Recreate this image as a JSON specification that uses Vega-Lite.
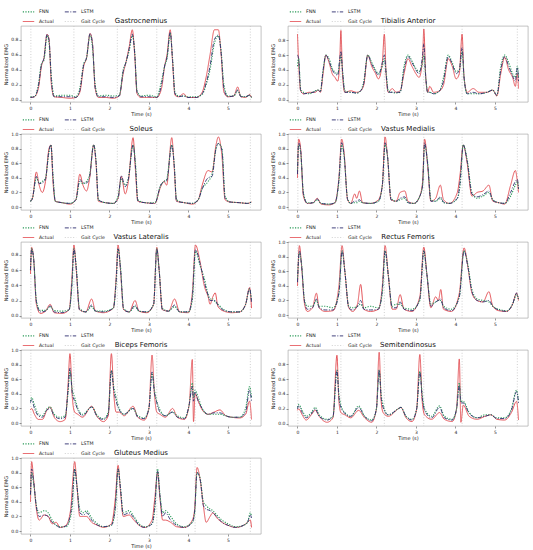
{
  "$schema": "https://vega.github.io/schema/vega-lite/v6.json",
  "padding": {"left": 3, "top": 4, "right": 4, "bottom": 2},
  "config": {
    "font": "DejaVu Sans",
    "view": {"stroke": "#9a9a9a", "strokeWidth": 0.6},
    "title": {"fontSize": 7, "fontWeight": "normal", "offset": 1, "dy": 20, "color": "#111"},
    "axis": {"labelFontSize": 4.5, "titleFontSize": 5, "titleFontWeight": "normal", "tickSize": 2, "tickWidth": 0.5, "tickColor": "#333", "domain": false, "grid": false, "labelPadding": 1, "titlePadding": 2, "labelColor": "#222", "titleColor": "#222"},
    "legend": {"orient": "none", "legendX": 1, "legendY": -21, "columns": 2, "symbolType": "stroke", "symbolSize": 130, "labelFontSize": 4.7, "rowPadding": 1, "columnPadding": 10, "labelOffset": 4, "padding": 0, "labelColor": "#222"},
    "line": {"interpolate": "monotone", "strokeJoin": "round"}
  },
  "datasets": {
    "gait": [
      {"t": 0.01, "s": "Gait Cycle"}, {"t": 1.1, "s": "Gait Cycle"}, {"t": 2.2, "s": "Gait Cycle"},
      {"t": 3.2, "s": "Gait Cycle"}, {"t": 4.17, "s": "Gait Cycle"}, {"t": 5.57, "s": "Gait Cycle"}
    ],
    "emg": [
      {"m":"GA","t":0.0,"Actual":0.03,"FNN":0.04,"LSTM":0.03},
      {"m":"GA","t":0.1,"Actual":0.04,"FNN":0.04,"LSTM":0.04},
      {"m":"GA","t":0.2,"Actual":0.15,"FNN":0.2,"LSTM":0.18},
      {"m":"GA","t":0.28,"Actual":0.45,"FNN":0.48,"LSTM":0.47},
      {"m":"GA","t":0.34,"Actual":0.55,"FNN":0.52,"LSTM":0.55},
      {"m":"GA","t":0.42,"Actual":0.87,"FNN":0.85,"LSTM":0.87},
      {"m":"GA","t":0.47,"Actual":0.8,"FNN":0.75,"LSTM":0.8},
      {"m":"GA","t":0.53,"Actual":0.2,"FNN":0.3,"LSTM":0.25},
      {"m":"GA","t":0.6,"Actual":0.04,"FNN":0.05,"LSTM":0.04},
      {"m":"GA","t":0.8,"Actual":0.03,"FNN":0.06,"LSTM":0.04},
      {"m":"GA","t":1.0,"Actual":0.02,"FNN":0.06,"LSTM":0.04},
      {"m":"GA","t":1.15,"Actual":0.03,"FNN":0.04,"LSTM":0.03},
      {"m":"GA","t":1.25,"Actual":0.1,"FNN":0.15,"LSTM":0.12},
      {"m":"GA","t":1.35,"Actual":0.45,"FNN":0.48,"LSTM":0.47},
      {"m":"GA","t":1.42,"Actual":0.55,"FNN":0.55,"LSTM":0.56},
      {"m":"GA","t":1.51,"Actual":0.88,"FNN":0.86,"LSTM":0.88},
      {"m":"GA","t":1.57,"Actual":0.75,"FNN":0.7,"LSTM":0.75},
      {"m":"GA","t":1.64,"Actual":0.15,"FNN":0.2,"LSTM":0.15},
      {"m":"GA","t":1.72,"Actual":0.03,"FNN":0.05,"LSTM":0.04},
      {"m":"GA","t":1.9,"Actual":0.03,"FNN":0.06,"LSTM":0.04},
      {"m":"GA","t":2.1,"Actual":0.02,"FNN":0.05,"LSTM":0.03},
      {"m":"GA","t":2.25,"Actual":0.05,"FNN":0.06,"LSTM":0.05},
      {"m":"GA","t":2.35,"Actual":0.35,"FNN":0.4,"LSTM":0.38},
      {"m":"GA","t":2.42,"Actual":0.5,"FNN":0.5,"LSTM":0.5},
      {"m":"GA","t":2.5,"Actual":0.7,"FNN":0.65,"LSTM":0.68},
      {"m":"GA","t":2.58,"Actual":0.93,"FNN":0.85,"LSTM":0.87},
      {"m":"GA","t":2.64,"Actual":0.6,"FNN":0.65,"LSTM":0.62},
      {"m":"GA","t":2.7,"Actual":0.08,"FNN":0.12,"LSTM":0.1},
      {"m":"GA","t":2.8,"Actual":0.03,"FNN":0.05,"LSTM":0.04},
      {"m":"GA","t":3.0,"Actual":0.03,"FNN":0.06,"LSTM":0.04},
      {"m":"GA","t":3.2,"Actual":0.03,"FNN":0.04,"LSTM":0.03},
      {"m":"GA","t":3.32,"Actual":0.15,"FNN":0.25,"LSTM":0.2},
      {"m":"GA","t":3.4,"Actual":0.45,"FNN":0.45,"LSTM":0.45},
      {"m":"GA","t":3.46,"Actual":0.6,"FNN":0.55,"LSTM":0.57},
      {"m":"GA","t":3.54,"Actual":0.93,"FNN":0.88,"LSTM":0.9},
      {"m":"GA","t":3.6,"Actual":0.5,"FNN":0.55,"LSTM":0.52},
      {"m":"GA","t":3.66,"Actual":0.06,"FNN":0.1,"LSTM":0.08},
      {"m":"GA","t":3.75,"Actual":0.04,"FNN":0.05,"LSTM":0.04},
      {"m":"GA","t":3.88,"Actual":0.08,"FNN":0.05,"LSTM":0.05},
      {"m":"GA","t":3.98,"Actual":0.03,"FNN":0.04,"LSTM":0.03},
      {"m":"GA","t":4.2,"Actual":0.03,"FNN":0.04,"LSTM":0.03},
      {"m":"GA","t":4.35,"Actual":0.1,"FNN":0.07,"LSTM":0.08},
      {"m":"GA","t":4.45,"Actual":0.3,"FNN":0.2,"LSTM":0.22},
      {"m":"GA","t":4.55,"Actual":0.6,"FNN":0.4,"LSTM":0.45},
      {"m":"GA","t":4.66,"Actual":0.93,"FNN":0.75,"LSTM":0.8},
      {"m":"GA","t":4.76,"Actual":0.93,"FNN":0.85,"LSTM":0.86},
      {"m":"GA","t":4.83,"Actual":0.6,"FNN":0.65,"LSTM":0.62},
      {"m":"GA","t":4.9,"Actual":0.1,"FNN":0.2,"LSTM":0.15},
      {"m":"GA","t":5.0,"Actual":0.04,"FNN":0.05,"LSTM":0.04},
      {"m":"GA","t":5.15,"Actual":0.05,"FNN":0.05,"LSTM":0.05},
      {"m":"GA","t":5.25,"Actual":0.17,"FNN":0.12,"LSTM":0.13},
      {"m":"GA","t":5.33,"Actual":0.04,"FNN":0.05,"LSTM":0.04},
      {"m":"GA","t":5.45,"Actual":0.03,"FNN":0.04,"LSTM":0.04},
      {"m":"GA","t":5.55,"Actual":0.07,"FNN":0.06,"LSTM":0.06},
      {"m":"GA","t":5.6,"Actual":0.03,"FNN":0.03,"LSTM":0.03},

      {"m":"TA","t":0.0,"Actual":0.88,"FNN":0.45,"LSTM":0.6},
      {"m":"TA","t":0.03,"Actual":0.5,"FNN":0.55,"LSTM":0.55},
      {"m":"TA","t":0.08,"Actual":0.12,"FNN":0.15,"LSTM":0.12},
      {"m":"TA","t":0.15,"Actual":0.08,"FNN":0.1,"LSTM":0.08},
      {"m":"TA","t":0.3,"Actual":0.1,"FNN":0.08,"LSTM":0.09},
      {"m":"TA","t":0.45,"Actual":0.1,"FNN":0.12,"LSTM":0.11},
      {"m":"TA","t":0.52,"Actual":0.13,"FNN":0.13,"LSTM":0.13},
      {"m":"TA","t":0.58,"Actual":0.1,"FNN":0.12,"LSTM":0.11},
      {"m":"TA","t":0.65,"Actual":0.35,"FNN":0.4,"LSTM":0.4},
      {"m":"TA","t":0.72,"Actual":0.6,"FNN":0.6,"LSTM":0.6},
      {"m":"TA","t":0.8,"Actual":0.5,"FNN":0.55,"LSTM":0.52},
      {"m":"TA","t":0.88,"Actual":0.35,"FNN":0.42,"LSTM":0.4},
      {"m":"TA","t":0.95,"Actual":0.3,"FNN":0.37,"LSTM":0.35},
      {"m":"TA","t":1.02,"Actual":0.25,"FNN":0.35,"LSTM":0.33},
      {"m":"TA","t":1.07,"Actual":0.5,"FNN":0.5,"LSTM":0.55},
      {"m":"TA","t":1.1,"Actual":0.93,"FNN":0.6,"LSTM":0.65},
      {"m":"TA","t":1.14,"Actual":0.35,"FNN":0.4,"LSTM":0.4},
      {"m":"TA","t":1.2,"Actual":0.1,"FNN":0.12,"LSTM":0.1},
      {"m":"TA","t":1.35,"Actual":0.12,"FNN":0.1,"LSTM":0.1},
      {"m":"TA","t":1.5,"Actual":0.1,"FNN":0.09,"LSTM":0.09},
      {"m":"TA","t":1.6,"Actual":0.12,"FNN":0.12,"LSTM":0.12},
      {"m":"TA","t":1.68,"Actual":0.2,"FNN":0.25,"LSTM":0.22},
      {"m":"TA","t":1.78,"Actual":0.6,"FNN":0.6,"LSTM":0.6},
      {"m":"TA","t":1.88,"Actual":0.45,"FNN":0.5,"LSTM":0.48},
      {"m":"TA","t":1.98,"Actual":0.35,"FNN":0.4,"LSTM":0.38},
      {"m":"TA","t":2.05,"Actual":0.28,"FNN":0.35,"LSTM":0.33},
      {"m":"TA","t":2.15,"Actual":0.5,"FNN":0.45,"LSTM":0.5},
      {"m":"TA","t":2.2,"Actual":0.88,"FNN":0.55,"LSTM":0.6},
      {"m":"TA","t":2.25,"Actual":0.3,"FNN":0.35,"LSTM":0.32},
      {"m":"TA","t":2.3,"Actual":0.1,"FNN":0.12,"LSTM":0.1},
      {"m":"TA","t":2.4,"Actual":0.15,"FNN":0.1,"LSTM":0.1},
      {"m":"TA","t":2.5,"Actual":0.1,"FNN":0.09,"LSTM":0.1},
      {"m":"TA","t":2.6,"Actual":0.12,"FNN":0.1,"LSTM":0.1},
      {"m":"TA","t":2.7,"Actual":0.35,"FNN":0.45,"LSTM":0.4},
      {"m":"TA","t":2.8,"Actual":0.55,"FNN":0.6,"LSTM":0.58},
      {"m":"TA","t":2.9,"Actual":0.45,"FNN":0.52,"LSTM":0.5},
      {"m":"TA","t":3.0,"Actual":0.35,"FNN":0.42,"LSTM":0.4},
      {"m":"TA","t":3.08,"Actual":0.3,"FNN":0.38,"LSTM":0.35},
      {"m":"TA","t":3.17,"Actual":0.55,"FNN":0.5,"LSTM":0.6},
      {"m":"TA","t":3.2,"Actual":0.95,"FNN":0.6,"LSTM":0.75},
      {"m":"TA","t":3.25,"Actual":0.3,"FNN":0.3,"LSTM":0.3},
      {"m":"TA","t":3.3,"Actual":0.1,"FNN":0.1,"LSTM":0.1},
      {"m":"TA","t":3.35,"Actual":0.18,"FNN":0.1,"LSTM":0.1},
      {"m":"TA","t":3.45,"Actual":0.1,"FNN":0.08,"LSTM":0.08},
      {"m":"TA","t":3.6,"Actual":0.12,"FNN":0.12,"LSTM":0.12},
      {"m":"TA","t":3.7,"Actual":0.2,"FNN":0.3,"LSTM":0.25},
      {"m":"TA","t":3.82,"Actual":0.55,"FNN":0.6,"LSTM":0.58},
      {"m":"TA","t":3.92,"Actual":0.45,"FNN":0.5,"LSTM":0.48},
      {"m":"TA","t":4.02,"Actual":0.28,"FNN":0.38,"LSTM":0.35},
      {"m":"TA","t":4.1,"Actual":0.35,"FNN":0.4,"LSTM":0.4},
      {"m":"TA","t":4.17,"Actual":0.88,"FNN":0.65,"LSTM":0.7},
      {"m":"TA","t":4.22,"Actual":0.3,"FNN":0.3,"LSTM":0.3},
      {"m":"TA","t":4.3,"Actual":0.1,"FNN":0.08,"LSTM":0.08},
      {"m":"TA","t":4.45,"Actual":0.15,"FNN":0.08,"LSTM":0.1},
      {"m":"TA","t":4.6,"Actual":0.1,"FNN":0.08,"LSTM":0.08},
      {"m":"TA","t":4.8,"Actual":0.1,"FNN":0.1,"LSTM":0.1},
      {"m":"TA","t":4.95,"Actual":0.13,"FNN":0.13,"LSTM":0.13},
      {"m":"TA","t":5.05,"Actual":0.05,"FNN":0.06,"LSTM":0.06},
      {"m":"TA","t":5.15,"Actual":0.35,"FNN":0.45,"LSTM":0.4},
      {"m":"TA","t":5.25,"Actual":0.57,"FNN":0.6,"LSTM":0.58},
      {"m":"TA","t":5.35,"Actual":0.4,"FNN":0.5,"LSTM":0.45},
      {"m":"TA","t":5.45,"Actual":0.3,"FNN":0.35,"LSTM":0.32},
      {"m":"TA","t":5.52,"Actual":0.18,"FNN":0.3,"LSTM":0.25},
      {"m":"TA","t":5.57,"Actual":0.35,"FNN":0.45,"LSTM":0.43},
      {"m":"TA","t":5.6,"Actual":0.15,"FNN":0.3,"LSTM":0.25},

      {"m":"SO","t":0.0,"Actual":0.08,"FNN":0.08,"LSTM":0.08},
      {"m":"SO","t":0.05,"Actual":0.12,"FNN":0.12,"LSTM":0.12},
      {"m":"SO","t":0.15,"Actual":0.48,"FNN":0.4,"LSTM":0.42},
      {"m":"SO","t":0.22,"Actual":0.3,"FNN":0.33,"LSTM":0.32},
      {"m":"SO","t":0.3,"Actual":0.2,"FNN":0.35,"LSTM":0.33},
      {"m":"SO","t":0.38,"Actual":0.35,"FNN":0.4,"LSTM":0.38},
      {"m":"SO","t":0.47,"Actual":0.8,"FNN":0.75,"LSTM":0.78},
      {"m":"SO","t":0.52,"Actual":0.85,"FNN":0.85,"LSTM":0.85},
      {"m":"SO","t":0.57,"Actual":0.35,"FNN":0.45,"LSTM":0.4},
      {"m":"SO","t":0.63,"Actual":0.08,"FNN":0.08,"LSTM":0.08},
      {"m":"SO","t":0.8,"Actual":0.06,"FNN":0.06,"LSTM":0.06},
      {"m":"SO","t":1.0,"Actual":0.04,"FNN":0.05,"LSTM":0.05},
      {"m":"SO","t":1.15,"Actual":0.1,"FNN":0.1,"LSTM":0.1},
      {"m":"SO","t":1.25,"Actual":0.45,"FNN":0.35,"LSTM":0.38},
      {"m":"SO","t":1.33,"Actual":0.3,"FNN":0.32,"LSTM":0.33},
      {"m":"SO","t":1.42,"Actual":0.22,"FNN":0.35,"LSTM":0.33},
      {"m":"SO","t":1.5,"Actual":0.4,"FNN":0.45,"LSTM":0.42},
      {"m":"SO","t":1.6,"Actual":0.85,"FNN":0.85,"LSTM":0.85},
      {"m":"SO","t":1.66,"Actual":0.6,"FNN":0.65,"LSTM":0.62},
      {"m":"SO","t":1.72,"Actual":0.08,"FNN":0.1,"LSTM":0.1},
      {"m":"SO","t":1.9,"Actual":0.06,"FNN":0.06,"LSTM":0.06},
      {"m":"SO","t":2.1,"Actual":0.05,"FNN":0.05,"LSTM":0.05},
      {"m":"SO","t":2.22,"Actual":0.12,"FNN":0.15,"LSTM":0.12},
      {"m":"SO","t":2.3,"Actual":0.42,"FNN":0.38,"LSTM":0.43},
      {"m":"SO","t":2.4,"Actual":0.18,"FNN":0.3,"LSTM":0.28},
      {"m":"SO","t":2.48,"Actual":0.35,"FNN":0.4,"LSTM":0.38},
      {"m":"SO","t":2.6,"Actual":0.95,"FNN":0.85,"LSTM":0.85},
      {"m":"SO","t":2.66,"Actual":0.5,"FNN":0.6,"LSTM":0.55},
      {"m":"SO","t":2.72,"Actual":0.08,"FNN":0.1,"LSTM":0.08},
      {"m":"SO","t":2.9,"Actual":0.06,"FNN":0.06,"LSTM":0.06},
      {"m":"SO","t":3.15,"Actual":0.05,"FNN":0.06,"LSTM":0.05},
      {"m":"SO","t":3.3,"Actual":0.28,"FNN":0.3,"LSTM":0.3},
      {"m":"SO","t":3.38,"Actual":0.35,"FNN":0.35,"LSTM":0.35},
      {"m":"SO","t":3.45,"Actual":0.3,"FNN":0.38,"LSTM":0.36},
      {"m":"SO","t":3.58,"Actual":0.95,"FNN":0.85,"LSTM":0.85},
      {"m":"SO","t":3.64,"Actual":0.55,"FNN":0.6,"LSTM":0.58},
      {"m":"SO","t":3.7,"Actual":0.08,"FNN":0.1,"LSTM":0.08},
      {"m":"SO","t":3.9,"Actual":0.06,"FNN":0.06,"LSTM":0.06},
      {"m":"SO","t":4.1,"Actual":0.04,"FNN":0.05,"LSTM":0.05},
      {"m":"SO","t":4.25,"Actual":0.1,"FNN":0.1,"LSTM":0.1},
      {"m":"SO","t":4.35,"Actual":0.3,"FNN":0.25,"LSTM":0.25},
      {"m":"SO","t":4.5,"Actual":0.5,"FNN":0.35,"LSTM":0.4},
      {"m":"SO","t":4.6,"Actual":0.48,"FNN":0.45,"LSTM":0.42},
      {"m":"SO","t":4.7,"Actual":0.85,"FNN":0.8,"LSTM":0.8},
      {"m":"SO","t":4.76,"Actual":0.96,"FNN":0.87,"LSTM":0.87},
      {"m":"SO","t":4.85,"Actual":0.7,"FNN":0.8,"LSTM":0.78},
      {"m":"SO","t":4.93,"Actual":0.1,"FNN":0.15,"LSTM":0.12},
      {"m":"SO","t":5.05,"Actual":0.07,"FNN":0.07,"LSTM":0.07},
      {"m":"SO","t":5.3,"Actual":0.06,"FNN":0.06,"LSTM":0.06},
      {"m":"SO","t":5.5,"Actual":0.05,"FNN":0.05,"LSTM":0.05},
      {"m":"SO","t":5.6,"Actual":0.07,"FNN":0.07,"LSTM":0.07},

      {"m":"VM","t":0.0,"Actual":0.4,"FNN":0.5,"LSTM":0.45},
      {"m":"VM","t":0.03,"Actual":0.93,"FNN":0.85,"LSTM":0.88},
      {"m":"VM","t":0.08,"Actual":0.8,"FNN":0.75,"LSTM":0.78},
      {"m":"VM","t":0.15,"Actual":0.15,"FNN":0.2,"LSTM":0.18},
      {"m":"VM","t":0.25,"Actual":0.05,"FNN":0.06,"LSTM":0.05},
      {"m":"VM","t":0.4,"Actual":0.06,"FNN":0.06,"LSTM":0.06},
      {"m":"VM","t":0.5,"Actual":0.12,"FNN":0.1,"LSTM":0.11},
      {"m":"VM","t":0.6,"Actual":0.04,"FNN":0.05,"LSTM":0.05},
      {"m":"VM","t":0.8,"Actual":0.03,"FNN":0.04,"LSTM":0.04},
      {"m":"VM","t":0.95,"Actual":0.06,"FNN":0.06,"LSTM":0.06},
      {"m":"VM","t":1.05,"Actual":0.4,"FNN":0.35,"LSTM":0.38},
      {"m":"VM","t":1.12,"Actual":0.93,"FNN":0.85,"LSTM":0.88},
      {"m":"VM","t":1.18,"Actual":0.75,"FNN":0.7,"LSTM":0.72},
      {"m":"VM","t":1.27,"Actual":0.1,"FNN":0.12,"LSTM":0.1},
      {"m":"VM","t":1.35,"Actual":0.05,"FNN":0.05,"LSTM":0.05},
      {"m":"VM","t":1.45,"Actual":0.18,"FNN":0.06,"LSTM":0.08},
      {"m":"VM","t":1.5,"Actual":0.12,"FNN":0.06,"LSTM":0.08},
      {"m":"VM","t":1.57,"Actual":0.22,"FNN":0.08,"LSTM":0.1},
      {"m":"VM","t":1.65,"Actual":0.06,"FNN":0.06,"LSTM":0.06},
      {"m":"VM","t":1.85,"Actual":0.05,"FNN":0.05,"LSTM":0.05},
      {"m":"VM","t":2.05,"Actual":0.1,"FNN":0.08,"LSTM":0.08},
      {"m":"VM","t":2.15,"Actual":0.3,"FNN":0.3,"LSTM":0.3},
      {"m":"VM","t":2.22,"Actual":0.96,"FNN":0.85,"LSTM":0.88},
      {"m":"VM","t":2.28,"Actual":0.7,"FNN":0.7,"LSTM":0.7},
      {"m":"VM","t":2.37,"Actual":0.1,"FNN":0.12,"LSTM":0.1},
      {"m":"VM","t":2.5,"Actual":0.08,"FNN":0.08,"LSTM":0.08},
      {"m":"VM","t":2.6,"Actual":0.2,"FNN":0.1,"LSTM":0.12},
      {"m":"VM","t":2.72,"Actual":0.22,"FNN":0.12,"LSTM":0.14},
      {"m":"VM","t":2.8,"Actual":0.08,"FNN":0.06,"LSTM":0.06},
      {"m":"VM","t":2.95,"Actual":0.05,"FNN":0.05,"LSTM":0.05},
      {"m":"VM","t":3.1,"Actual":0.15,"FNN":0.15,"LSTM":0.15},
      {"m":"VM","t":3.17,"Actual":0.35,"FNN":0.3,"LSTM":0.3},
      {"m":"VM","t":3.22,"Actual":0.93,"FNN":0.85,"LSTM":0.88},
      {"m":"VM","t":3.3,"Actual":0.55,"FNN":0.6,"LSTM":0.58},
      {"m":"VM","t":3.38,"Actual":0.08,"FNN":0.1,"LSTM":0.08},
      {"m":"VM","t":3.5,"Actual":0.12,"FNN":0.08,"LSTM":0.08},
      {"m":"VM","t":3.62,"Actual":0.3,"FNN":0.12,"LSTM":0.14},
      {"m":"VM","t":3.7,"Actual":0.1,"FNN":0.06,"LSTM":0.07},
      {"m":"VM","t":3.85,"Actual":0.05,"FNN":0.05,"LSTM":0.05},
      {"m":"VM","t":4.05,"Actual":0.2,"FNN":0.12,"LSTM":0.12},
      {"m":"VM","t":4.12,"Actual":0.45,"FNN":0.3,"LSTM":0.35},
      {"m":"VM","t":4.2,"Actual":0.85,"FNN":0.85,"LSTM":0.85},
      {"m":"VM","t":4.3,"Actual":0.6,"FNN":0.65,"LSTM":0.62},
      {"m":"VM","t":4.42,"Actual":0.15,"FNN":0.2,"LSTM":0.18},
      {"m":"VM","t":4.55,"Actual":0.2,"FNN":0.12,"LSTM":0.14},
      {"m":"VM","t":4.7,"Actual":0.22,"FNN":0.15,"LSTM":0.17},
      {"m":"VM","t":4.85,"Actual":0.3,"FNN":0.2,"LSTM":0.22},
      {"m":"VM","t":4.95,"Actual":0.08,"FNN":0.1,"LSTM":0.09},
      {"m":"VM","t":5.1,"Actual":0.06,"FNN":0.06,"LSTM":0.06},
      {"m":"VM","t":5.25,"Actual":0.04,"FNN":0.05,"LSTM":0.05},
      {"m":"VM","t":5.4,"Actual":0.3,"FNN":0.15,"LSTM":0.2},
      {"m":"VM","t":5.52,"Actual":0.5,"FNN":0.3,"LSTM":0.35},
      {"m":"VM","t":5.57,"Actual":0.35,"FNN":0.35,"LSTM":0.38},
      {"m":"VM","t":5.6,"Actual":0.2,"FNN":0.25,"LSTM":0.25},

      {"m":"VL","t":0.0,"Actual":0.55,"FNN":0.6,"LSTM":0.6},
      {"m":"VL","t":0.03,"Actual":0.9,"FNN":0.88,"LSTM":0.88},
      {"m":"VL","t":0.08,"Actual":0.75,"FNN":0.75,"LSTM":0.75},
      {"m":"VL","t":0.15,"Actual":0.15,"FNN":0.2,"LSTM":0.18},
      {"m":"VL","t":0.25,"Actual":0.03,"FNN":0.07,"LSTM":0.05},
      {"m":"VL","t":0.38,"Actual":0.06,"FNN":0.07,"LSTM":0.06},
      {"m":"VL","t":0.5,"Actual":0.15,"FNN":0.12,"LSTM":0.13},
      {"m":"VL","t":0.6,"Actual":0.04,"FNN":0.07,"LSTM":0.05},
      {"m":"VL","t":0.8,"Actual":0.03,"FNN":0.06,"LSTM":0.04},
      {"m":"VL","t":0.98,"Actual":0.08,"FNN":0.08,"LSTM":0.08},
      {"m":"VL","t":1.05,"Actual":0.5,"FNN":0.4,"LSTM":0.42},
      {"m":"VL","t":1.1,"Actual":0.93,"FNN":0.88,"LSTM":0.88},
      {"m":"VL","t":1.16,"Actual":0.6,"FNN":0.65,"LSTM":0.62},
      {"m":"VL","t":1.24,"Actual":0.08,"FNN":0.1,"LSTM":0.08},
      {"m":"VL","t":1.4,"Actual":0.05,"FNN":0.05,"LSTM":0.05},
      {"m":"VL","t":1.55,"Actual":0.22,"FNN":0.12,"LSTM":0.14},
      {"m":"VL","t":1.65,"Actual":0.06,"FNN":0.06,"LSTM":0.06},
      {"m":"VL","t":1.85,"Actual":0.04,"FNN":0.06,"LSTM":0.05},
      {"m":"VL","t":2.1,"Actual":0.1,"FNN":0.1,"LSTM":0.1},
      {"m":"VL","t":2.17,"Actual":0.5,"FNN":0.45,"LSTM":0.45},
      {"m":"VL","t":2.22,"Actual":0.93,"FNN":0.88,"LSTM":0.88},
      {"m":"VL","t":2.28,"Actual":0.6,"FNN":0.65,"LSTM":0.62},
      {"m":"VL","t":2.36,"Actual":0.08,"FNN":0.1,"LSTM":0.08},
      {"m":"VL","t":2.5,"Actual":0.05,"FNN":0.05,"LSTM":0.05},
      {"m":"VL","t":2.65,"Actual":0.2,"FNN":0.12,"LSTM":0.14},
      {"m":"VL","t":2.75,"Actual":0.06,"FNN":0.06,"LSTM":0.06},
      {"m":"VL","t":2.95,"Actual":0.04,"FNN":0.05,"LSTM":0.05},
      {"m":"VL","t":3.12,"Actual":0.15,"FNN":0.15,"LSTM":0.15},
      {"m":"VL","t":3.2,"Actual":0.9,"FNN":0.88,"LSTM":0.88},
      {"m":"VL","t":3.26,"Actual":0.6,"FNN":0.6,"LSTM":0.6},
      {"m":"VL","t":3.34,"Actual":0.08,"FNN":0.1,"LSTM":0.08},
      {"m":"VL","t":3.5,"Actual":0.06,"FNN":0.06,"LSTM":0.06},
      {"m":"VL","t":3.65,"Actual":0.22,"FNN":0.12,"LSTM":0.14},
      {"m":"VL","t":3.78,"Actual":0.05,"FNN":0.05,"LSTM":0.05},
      {"m":"VL","t":4.0,"Actual":0.04,"FNN":0.05,"LSTM":0.05},
      {"m":"VL","t":4.1,"Actual":0.3,"FNN":0.2,"LSTM":0.25},
      {"m":"VL","t":4.18,"Actual":0.93,"FNN":0.85,"LSTM":0.87},
      {"m":"VL","t":4.3,"Actual":0.7,"FNN":0.65,"LSTM":0.68},
      {"m":"VL","t":4.4,"Actual":0.4,"FNN":0.5,"LSTM":0.45},
      {"m":"VL","t":4.5,"Actual":0.25,"FNN":0.28,"LSTM":0.27},
      {"m":"VL","t":4.55,"Actual":0.15,"FNN":0.22,"LSTM":0.2},
      {"m":"VL","t":4.62,"Actual":0.25,"FNN":0.22,"LSTM":0.2},
      {"m":"VL","t":4.68,"Actual":0.3,"FNN":0.18,"LSTM":0.2},
      {"m":"VL","t":4.75,"Actual":0.12,"FNN":0.15,"LSTM":0.14},
      {"m":"VL","t":4.9,"Actual":0.06,"FNN":0.08,"LSTM":0.07},
      {"m":"VL","t":5.1,"Actual":0.04,"FNN":0.05,"LSTM":0.05},
      {"m":"VL","t":5.3,"Actual":0.05,"FNN":0.05,"LSTM":0.05},
      {"m":"VL","t":5.45,"Actual":0.15,"FNN":0.15,"LSTM":0.15},
      {"m":"VL","t":5.55,"Actual":0.37,"FNN":0.35,"LSTM":0.36},
      {"m":"VL","t":5.6,"Actual":0.1,"FNN":0.2,"LSTM":0.18},

      {"m":"RF","t":0.0,"Actual":0.4,"FNN":0.5,"LSTM":0.45},
      {"m":"RF","t":0.05,"Actual":0.95,"FNN":0.85,"LSTM":0.88},
      {"m":"RF","t":0.1,"Actual":0.7,"FNN":0.72,"LSTM":0.7},
      {"m":"RF","t":0.18,"Actual":0.15,"FNN":0.2,"LSTM":0.18},
      {"m":"RF","t":0.25,"Actual":0.05,"FNN":0.12,"LSTM":0.08},
      {"m":"RF","t":0.38,"Actual":0.1,"FNN":0.12,"LSTM":0.1},
      {"m":"RF","t":0.48,"Actual":0.3,"FNN":0.2,"LSTM":0.22},
      {"m":"RF","t":0.55,"Actual":0.1,"FNN":0.12,"LSTM":0.1},
      {"m":"RF","t":0.7,"Actual":0.05,"FNN":0.12,"LSTM":0.07},
      {"m":"RF","t":0.9,"Actual":0.06,"FNN":0.1,"LSTM":0.07},
      {"m":"RF","t":1.05,"Actual":0.4,"FNN":0.3,"LSTM":0.3},
      {"m":"RF","t":1.13,"Actual":0.95,"FNN":0.88,"LSTM":0.88},
      {"m":"RF","t":1.2,"Actual":0.6,"FNN":0.6,"LSTM":0.6},
      {"m":"RF","t":1.3,"Actual":0.1,"FNN":0.12,"LSTM":0.1},
      {"m":"RF","t":1.4,"Actual":0.05,"FNN":0.1,"LSTM":0.07},
      {"m":"RF","t":1.52,"Actual":0.15,"FNN":0.12,"LSTM":0.12},
      {"m":"RF","t":1.6,"Actual":0.42,"FNN":0.15,"LSTM":0.2},
      {"m":"RF","t":1.68,"Actual":0.08,"FNN":0.1,"LSTM":0.08},
      {"m":"RF","t":1.85,"Actual":0.05,"FNN":0.12,"LSTM":0.07},
      {"m":"RF","t":2.05,"Actual":0.08,"FNN":0.1,"LSTM":0.08},
      {"m":"RF","t":2.15,"Actual":0.4,"FNN":0.3,"LSTM":0.35},
      {"m":"RF","t":2.22,"Actual":0.95,"FNN":0.88,"LSTM":0.88},
      {"m":"RF","t":2.3,"Actual":0.55,"FNN":0.55,"LSTM":0.55},
      {"m":"RF","t":2.4,"Actual":0.08,"FNN":0.12,"LSTM":0.1},
      {"m":"RF","t":2.5,"Actual":0.08,"FNN":0.15,"LSTM":0.1},
      {"m":"RF","t":2.6,"Actual":0.28,"FNN":0.15,"LSTM":0.18},
      {"m":"RF","t":2.7,"Actual":0.08,"FNN":0.1,"LSTM":0.08},
      {"m":"RF","t":2.9,"Actual":0.05,"FNN":0.08,"LSTM":0.06},
      {"m":"RF","t":3.1,"Actual":0.25,"FNN":0.2,"LSTM":0.22},
      {"m":"RF","t":3.2,"Actual":0.93,"FNN":0.88,"LSTM":0.88},
      {"m":"RF","t":3.28,"Actual":0.55,"FNN":0.55,"LSTM":0.55},
      {"m":"RF","t":3.38,"Actual":0.1,"FNN":0.15,"LSTM":0.12},
      {"m":"RF","t":3.5,"Actual":0.25,"FNN":0.18,"LSTM":0.18},
      {"m":"RF","t":3.57,"Actual":0.2,"FNN":0.2,"LSTM":0.2},
      {"m":"RF","t":3.63,"Actual":0.35,"FNN":0.2,"LSTM":0.22},
      {"m":"RF","t":3.7,"Actual":0.08,"FNN":0.12,"LSTM":0.1},
      {"m":"RF","t":3.9,"Actual":0.05,"FNN":0.08,"LSTM":0.06},
      {"m":"RF","t":4.1,"Actual":0.3,"FNN":0.25,"LSTM":0.25},
      {"m":"RF","t":4.22,"Actual":0.92,"FNN":0.88,"LSTM":0.88},
      {"m":"RF","t":4.32,"Actual":0.65,"FNN":0.68,"LSTM":0.65},
      {"m":"RF","t":4.42,"Actual":0.3,"FNN":0.35,"LSTM":0.32},
      {"m":"RF","t":4.55,"Actual":0.2,"FNN":0.22,"LSTM":0.2},
      {"m":"RF","t":4.7,"Actual":0.18,"FNN":0.2,"LSTM":0.18},
      {"m":"RF","t":4.85,"Actual":0.32,"FNN":0.18,"LSTM":0.2},
      {"m":"RF","t":4.95,"Actual":0.12,"FNN":0.12,"LSTM":0.12},
      {"m":"RF","t":5.1,"Actual":0.06,"FNN":0.08,"LSTM":0.07},
      {"m":"RF","t":5.3,"Actual":0.05,"FNN":0.06,"LSTM":0.05},
      {"m":"RF","t":5.45,"Actual":0.15,"FNN":0.15,"LSTM":0.15},
      {"m":"RF","t":5.55,"Actual":0.3,"FNN":0.28,"LSTM":0.3},
      {"m":"RF","t":5.6,"Actual":0.2,"FNN":0.22,"LSTM":0.22},

      {"m":"BF","t":0.0,"Actual":0.18,"FNN":0.3,"LSTM":0.28},
      {"m":"BF","t":0.03,"Actual":0.2,"FNN":0.35,"LSTM":0.32},
      {"m":"BF","t":0.1,"Actual":0.12,"FNN":0.25,"LSTM":0.2},
      {"m":"BF","t":0.2,"Actual":0.05,"FNN":0.12,"LSTM":0.1},
      {"m":"BF","t":0.3,"Actual":0.05,"FNN":0.1,"LSTM":0.08},
      {"m":"BF","t":0.42,"Actual":0.18,"FNN":0.2,"LSTM":0.18},
      {"m":"BF","t":0.5,"Actual":0.22,"FNN":0.22,"LSTM":0.2},
      {"m":"BF","t":0.6,"Actual":0.08,"FNN":0.12,"LSTM":0.1},
      {"m":"BF","t":0.75,"Actual":0.02,"FNN":0.08,"LSTM":0.06},
      {"m":"BF","t":0.88,"Actual":0.05,"FNN":0.1,"LSTM":0.08},
      {"m":"BF","t":0.95,"Actual":0.5,"FNN":0.4,"LSTM":0.45},
      {"m":"BF","t":1.0,"Actual":0.95,"FNN":0.72,"LSTM":0.75},
      {"m":"BF","t":1.06,"Actual":0.35,"FNN":0.45,"LSTM":0.4},
      {"m":"BF","t":1.12,"Actual":0.15,"FNN":0.35,"LSTM":0.3},
      {"m":"BF","t":1.2,"Actual":0.12,"FNN":0.2,"LSTM":0.18},
      {"m":"BF","t":1.32,"Actual":0.08,"FNN":0.12,"LSTM":0.1},
      {"m":"BF","t":1.55,"Actual":0.23,"FNN":0.22,"LSTM":0.22},
      {"m":"BF","t":1.7,"Actual":0.08,"FNN":0.1,"LSTM":0.08},
      {"m":"BF","t":1.85,"Actual":0.02,"FNN":0.06,"LSTM":0.05},
      {"m":"BF","t":1.97,"Actual":0.1,"FNN":0.15,"LSTM":0.12},
      {"m":"BF","t":2.05,"Actual":0.95,"FNN":0.72,"LSTM":0.72},
      {"m":"BF","t":2.11,"Actual":0.4,"FNN":0.5,"LSTM":0.45},
      {"m":"BF","t":2.17,"Actual":0.15,"FNN":0.35,"LSTM":0.3},
      {"m":"BF","t":2.25,"Actual":0.15,"FNN":0.2,"LSTM":0.18},
      {"m":"BF","t":2.37,"Actual":0.1,"FNN":0.12,"LSTM":0.12},
      {"m":"BF","t":2.6,"Actual":0.23,"FNN":0.2,"LSTM":0.2},
      {"m":"BF","t":2.72,"Actual":0.08,"FNN":0.1,"LSTM":0.08},
      {"m":"BF","t":2.88,"Actual":0.04,"FNN":0.07,"LSTM":0.06},
      {"m":"BF","t":3.0,"Actual":0.2,"FNN":0.2,"LSTM":0.2},
      {"m":"BF","t":3.08,"Actual":0.93,"FNN":0.68,"LSTM":0.7},
      {"m":"BF","t":3.14,"Actual":0.4,"FNN":0.45,"LSTM":0.42},
      {"m":"BF","t":3.2,"Actual":0.15,"FNN":0.3,"LSTM":0.28},
      {"m":"BF","t":3.28,"Actual":0.12,"FNN":0.18,"LSTM":0.15},
      {"m":"BF","t":3.42,"Actual":0.08,"FNN":0.1,"LSTM":0.1},
      {"m":"BF","t":3.6,"Actual":0.2,"FNN":0.15,"LSTM":0.15},
      {"m":"BF","t":3.72,"Actual":0.08,"FNN":0.1,"LSTM":0.08},
      {"m":"BF","t":3.9,"Actual":0.05,"FNN":0.07,"LSTM":0.06},
      {"m":"BF","t":4.02,"Actual":0.25,"FNN":0.25,"LSTM":0.25},
      {"m":"BF","t":4.1,"Actual":0.87,"FNN":0.55,"LSTM":0.5},
      {"m":"BF","t":4.13,"Actual":0.02,"FNN":0.35,"LSTM":0.3},
      {"m":"BF","t":4.17,"Actual":0.4,"FNN":0.45,"LSTM":0.42},
      {"m":"BF","t":4.25,"Actual":0.3,"FNN":0.35,"LSTM":0.3},
      {"m":"BF","t":4.35,"Actual":0.18,"FNN":0.2,"LSTM":0.2},
      {"m":"BF","t":4.5,"Actual":0.12,"FNN":0.12,"LSTM":0.12},
      {"m":"BF","t":4.65,"Actual":0.15,"FNN":0.12,"LSTM":0.14},
      {"m":"BF","t":4.8,"Actual":0.18,"FNN":0.12,"LSTM":0.14},
      {"m":"BF","t":4.95,"Actual":0.1,"FNN":0.1,"LSTM":0.1},
      {"m":"BF","t":5.1,"Actual":0.08,"FNN":0.08,"LSTM":0.08},
      {"m":"BF","t":5.3,"Actual":0.07,"FNN":0.08,"LSTM":0.08},
      {"m":"BF","t":5.45,"Actual":0.12,"FNN":0.2,"LSTM":0.15},
      {"m":"BF","t":5.55,"Actual":0.3,"FNN":0.5,"LSTM":0.45},
      {"m":"BF","t":5.6,"Actual":0.05,"FNN":0.35,"LSTM":0.3},

      {"m":"ST","t":0.0,"Actual":0.18,"FNN":0.22,"LSTM":0.2},
      {"m":"ST","t":0.03,"Actual":0.2,"FNN":0.26,"LSTM":0.24},
      {"m":"ST","t":0.12,"Actual":0.12,"FNN":0.18,"LSTM":0.15},
      {"m":"ST","t":0.22,"Actual":0.05,"FNN":0.1,"LSTM":0.08},
      {"m":"ST","t":0.35,"Actual":0.12,"FNN":0.15,"LSTM":0.13},
      {"m":"ST","t":0.45,"Actual":0.18,"FNN":0.22,"LSTM":0.2},
      {"m":"ST","t":0.55,"Actual":0.1,"FNN":0.12,"LSTM":0.1},
      {"m":"ST","t":0.75,"Actual":0.02,"FNN":0.06,"LSTM":0.05},
      {"m":"ST","t":0.9,"Actual":0.08,"FNN":0.1,"LSTM":0.1},
      {"m":"ST","t":1.0,"Actual":0.92,"FNN":0.72,"LSTM":0.72},
      {"m":"ST","t":1.05,"Actual":0.3,"FNN":0.4,"LSTM":0.35},
      {"m":"ST","t":1.1,"Actual":0.15,"FNN":0.25,"LSTM":0.22},
      {"m":"ST","t":1.2,"Actual":0.12,"FNN":0.15,"LSTM":0.14},
      {"m":"ST","t":1.35,"Actual":0.08,"FNN":0.1,"LSTM":0.1},
      {"m":"ST","t":1.55,"Actual":0.18,"FNN":0.24,"LSTM":0.22},
      {"m":"ST","t":1.7,"Actual":0.08,"FNN":0.1,"LSTM":0.1},
      {"m":"ST","t":1.88,"Actual":0.02,"FNN":0.05,"LSTM":0.04},
      {"m":"ST","t":2.0,"Actual":0.2,"FNN":0.2,"LSTM":0.2},
      {"m":"ST","t":2.07,"Actual":0.96,"FNN":0.72,"LSTM":0.72},
      {"m":"ST","t":2.12,"Actual":0.3,"FNN":0.4,"LSTM":0.35},
      {"m":"ST","t":2.17,"Actual":0.15,"FNN":0.25,"LSTM":0.22},
      {"m":"ST","t":2.3,"Actual":0.1,"FNN":0.12,"LSTM":0.12},
      {"m":"ST","t":2.55,"Actual":0.2,"FNN":0.2,"LSTM":0.2},
      {"m":"ST","t":2.62,"Actual":0.22,"FNN":0.22,"LSTM":0.22},
      {"m":"ST","t":2.75,"Actual":0.08,"FNN":0.1,"LSTM":0.1},
      {"m":"ST","t":2.9,"Actual":0.03,"FNN":0.06,"LSTM":0.05},
      {"m":"ST","t":3.02,"Actual":0.2,"FNN":0.2,"LSTM":0.2},
      {"m":"ST","t":3.1,"Actual":0.93,"FNN":0.7,"LSTM":0.7},
      {"m":"ST","t":3.16,"Actual":0.3,"FNN":0.4,"LSTM":0.35},
      {"m":"ST","t":3.22,"Actual":0.12,"FNN":0.2,"LSTM":0.18},
      {"m":"ST","t":3.4,"Actual":0.06,"FNN":0.1,"LSTM":0.08},
      {"m":"ST","t":3.6,"Actual":0.15,"FNN":0.24,"LSTM":0.22},
      {"m":"ST","t":3.72,"Actual":0.06,"FNN":0.1,"LSTM":0.08},
      {"m":"ST","t":3.92,"Actual":0.03,"FNN":0.06,"LSTM":0.05},
      {"m":"ST","t":4.03,"Actual":0.2,"FNN":0.2,"LSTM":0.2},
      {"m":"ST","t":4.1,"Actual":0.87,"FNN":0.55,"LSTM":0.52},
      {"m":"ST","t":4.14,"Actual":0.02,"FNN":0.3,"LSTM":0.28},
      {"m":"ST","t":4.2,"Actual":0.25,"FNN":0.3,"LSTM":0.28},
      {"m":"ST","t":4.35,"Actual":0.1,"FNN":0.15,"LSTM":0.14},
      {"m":"ST","t":4.55,"Actual":0.06,"FNN":0.08,"LSTM":0.08},
      {"m":"ST","t":4.75,"Actual":0.1,"FNN":0.12,"LSTM":0.1},
      {"m":"ST","t":4.9,"Actual":0.12,"FNN":0.12,"LSTM":0.12},
      {"m":"ST","t":5.05,"Actual":0.06,"FNN":0.08,"LSTM":0.07},
      {"m":"ST","t":5.25,"Actual":0.05,"FNN":0.08,"LSTM":0.07},
      {"m":"ST","t":5.42,"Actual":0.15,"FNN":0.2,"LSTM":0.18},
      {"m":"ST","t":5.55,"Actual":0.3,"FNN":0.45,"LSTM":0.43},
      {"m":"ST","t":5.6,"Actual":0.05,"FNN":0.3,"LSTM":0.28},

      {"m":"GM","t":0.0,"Actual":0.4,"FNN":0.5,"LSTM":0.5},
      {"m":"GM","t":0.03,"Actual":0.95,"FNN":0.8,"LSTM":0.85},
      {"m":"GM","t":0.08,"Actual":0.7,"FNN":0.65,"LSTM":0.68},
      {"m":"GM","t":0.15,"Actual":0.3,"FNN":0.35,"LSTM":0.33},
      {"m":"GM","t":0.22,"Actual":0.15,"FNN":0.25,"LSTM":0.2},
      {"m":"GM","t":0.35,"Actual":0.22,"FNN":0.28,"LSTM":0.22},
      {"m":"GM","t":0.45,"Actual":0.2,"FNN":0.25,"LSTM":0.2},
      {"m":"GM","t":0.55,"Actual":0.1,"FNN":0.15,"LSTM":0.12},
      {"m":"GM","t":0.65,"Actual":0.12,"FNN":0.08,"LSTM":0.08},
      {"m":"GM","t":0.75,"Actual":0.05,"FNN":0.06,"LSTM":0.05},
      {"m":"GM","t":0.9,"Actual":0.08,"FNN":0.06,"LSTM":0.07},
      {"m":"GM","t":1.02,"Actual":0.3,"FNN":0.2,"LSTM":0.25},
      {"m":"GM","t":1.06,"Actual":0.6,"FNN":0.35,"LSTM":0.45},
      {"m":"GM","t":1.12,"Actual":0.95,"FNN":0.85,"LSTM":0.85},
      {"m":"GM","t":1.18,"Actual":0.6,"FNN":0.6,"LSTM":0.6},
      {"m":"GM","t":1.25,"Actual":0.2,"FNN":0.3,"LSTM":0.25},
      {"m":"GM","t":1.35,"Actual":0.2,"FNN":0.25,"LSTM":0.22},
      {"m":"GM","t":1.42,"Actual":0.2,"FNN":0.28,"LSTM":0.25},
      {"m":"GM","t":1.55,"Actual":0.12,"FNN":0.18,"LSTM":0.15},
      {"m":"GM","t":1.7,"Actual":0.08,"FNN":0.1,"LSTM":0.08},
      {"m":"GM","t":1.85,"Actual":0.05,"FNN":0.06,"LSTM":0.06},
      {"m":"GM","t":2.05,"Actual":0.1,"FNN":0.08,"LSTM":0.08},
      {"m":"GM","t":2.15,"Actual":0.45,"FNN":0.3,"LSTM":0.35},
      {"m":"GM","t":2.22,"Actual":0.9,"FNN":0.85,"LSTM":0.85},
      {"m":"GM","t":2.28,"Actual":0.55,"FNN":0.6,"LSTM":0.58},
      {"m":"GM","t":2.35,"Actual":0.2,"FNN":0.25,"LSTM":0.22},
      {"m":"GM","t":2.5,"Actual":0.22,"FNN":0.28,"LSTM":0.25},
      {"m":"GM","t":2.62,"Actual":0.15,"FNN":0.2,"LSTM":0.18},
      {"m":"GM","t":2.75,"Actual":0.08,"FNN":0.1,"LSTM":0.08},
      {"m":"GM","t":2.9,"Actual":0.05,"FNN":0.06,"LSTM":0.05},
      {"m":"GM","t":3.08,"Actual":0.15,"FNN":0.1,"LSTM":0.1},
      {"m":"GM","t":3.15,"Actual":0.45,"FNN":0.3,"LSTM":0.35},
      {"m":"GM","t":3.22,"Actual":0.8,"FNN":0.85,"LSTM":0.82},
      {"m":"GM","t":3.28,"Actual":0.45,"FNN":0.5,"LSTM":0.48},
      {"m":"GM","t":3.35,"Actual":0.15,"FNN":0.25,"LSTM":0.2},
      {"m":"GM","t":3.42,"Actual":0.15,"FNN":0.28,"LSTM":0.25},
      {"m":"GM","t":3.55,"Actual":0.12,"FNN":0.2,"LSTM":0.15},
      {"m":"GM","t":3.7,"Actual":0.06,"FNN":0.1,"LSTM":0.08},
      {"m":"GM","t":3.9,"Actual":0.05,"FNN":0.06,"LSTM":0.05},
      {"m":"GM","t":4.1,"Actual":0.15,"FNN":0.12,"LSTM":0.12},
      {"m":"GM","t":4.16,"Actual":0.3,"FNN":0.25,"LSTM":0.28},
      {"m":"GM","t":4.22,"Actual":0.87,"FNN":0.8,"LSTM":0.8},
      {"m":"GM","t":4.3,"Actual":0.7,"FNN":0.72,"LSTM":0.7},
      {"m":"GM","t":4.38,"Actual":0.35,"FNN":0.4,"LSTM":0.35},
      {"m":"GM","t":4.45,"Actual":0.12,"FNN":0.35,"LSTM":0.3},
      {"m":"GM","t":4.55,"Actual":0.2,"FNN":0.3,"LSTM":0.28},
      {"m":"GM","t":4.62,"Actual":0.25,"FNN":0.28,"LSTM":0.25},
      {"m":"GM","t":4.72,"Actual":0.18,"FNN":0.22,"LSTM":0.2},
      {"m":"GM","t":4.85,"Actual":0.12,"FNN":0.15,"LSTM":0.12},
      {"m":"GM","t":5.0,"Actual":0.08,"FNN":0.1,"LSTM":0.08},
      {"m":"GM","t":5.2,"Actual":0.05,"FNN":0.06,"LSTM":0.05},
      {"m":"GM","t":5.4,"Actual":0.08,"FNN":0.08,"LSTM":0.08},
      {"m":"GM","t":5.5,"Actual":0.12,"FNN":0.12,"LSTM":0.12},
      {"m":"GM","t":5.57,"Actual":0.15,"FNN":0.25,"LSTM":0.22},
      {"m":"GM","t":5.6,"Actual":0.05,"FNN":0.2,"LSTM":0.18}
    ]
  },
  "columns": 2,
  "bounds": "flush",
  "spacing": {"row": 32, "column": 27},
  "resolve": {"scale": {"x": "independent", "y": "independent", "color": "independent", "strokeDash": "independent", "strokeWidth": "independent"}},
  "concat": [
    {"title": "Gastrocnemius", "width": 240, "height": 76, "layer": [
      {"data": {"name": "gait"}, "mark": "rule", "encoding": {
        "x": {"field": "t", "type": "quantitative", "scale": {"domain": [-0.24, 5.84], "nice": false}, "axis": {"values": [0, 1, 2, 3, 4, 5], "format": "d", "title": "Time (s)"}},
        "color": {"field": "s", "type": "nominal", "scale": {"domain": ["FNN", "Actual", "LSTM", "Gait Cycle"], "range": ["#2a9a58", "#e5555a", "#2e2e6e", "#c4c4c4"]}, "legend": {"title": null}},
        "strokeDash": {"field": "s", "type": "nominal", "scale": {"domain": ["FNN", "Actual", "LSTM", "Gait Cycle"], "range": [[1.2, 1.4], [1, 0], [4, 1.5, 1, 1.5], [1, 1.8]]}, "legend": {"title": null}},
        "strokeWidth": {"field": "s", "type": "nominal", "scale": {"domain": ["FNN", "Actual", "LSTM", "Gait Cycle"], "range": [1.1, 0.8, 0.9, 0.7]}, "legend": {"title": null}}}},
      {"data": {"name": "emg"}, "transform": [{"filter": "datum.m === 'GA'"}, {"fold": ["Actual", "FNN", "LSTM"], "as": ["s", "v"]}], "mark": "line", "encoding": {
        "x": {"field": "t", "type": "quantitative", "scale": {"domain": [-0.24, 5.84], "nice": false}, "axis": {"values": [0, 1, 2, 3, 4, 5], "format": "d", "title": "Time (s)"}},
        "y": {"field": "v", "type": "quantitative", "scale": {"domain": [-0.03, 0.98], "nice": false, "zero": false}, "axis": {"values": [0, 0.2, 0.4, 0.6, 0.8], "format": ".1f", "title": "Normalized EMG"}},
        "color": {"field": "s", "type": "nominal", "scale": {"domain": ["FNN", "Actual", "LSTM", "Gait Cycle"], "range": ["#2a9a58", "#e5555a", "#2e2e6e", "#c4c4c4"]}, "legend": {"title": null}},
        "strokeDash": {"field": "s", "type": "nominal", "scale": {"domain": ["FNN", "Actual", "LSTM", "Gait Cycle"], "range": [[1.2, 1.4], [1, 0], [4, 1.5, 1, 1.5], [1, 1.8]]}, "legend": {"title": null}},
        "strokeWidth": {"field": "s", "type": "nominal", "scale": {"domain": ["FNN", "Actual", "LSTM", "Gait Cycle"], "range": [1.1, 0.8, 0.9, 0.7]}, "legend": {"title": null}}}}
    ]},
    {"title": "Tibialis Anterior", "width": 240, "height": 76, "layer": [
      {"data": {"name": "gait"}, "mark": "rule", "encoding": {
        "x": {"field": "t", "type": "quantitative", "scale": {"domain": [-0.24, 5.84], "nice": false}, "axis": {"values": [0, 1, 2, 3, 4, 5], "format": "d", "title": "Time (s)"}},
        "color": {"field": "s", "type": "nominal", "scale": {"domain": ["FNN", "Actual", "LSTM", "Gait Cycle"], "range": ["#2a9a58", "#e5555a", "#2e2e6e", "#c4c4c4"]}, "legend": {"title": null}},
        "strokeDash": {"field": "s", "type": "nominal", "scale": {"domain": ["FNN", "Actual", "LSTM", "Gait Cycle"], "range": [[1.2, 1.4], [1, 0], [4, 1.5, 1, 1.5], [1, 1.8]]}, "legend": {"title": null}},
        "strokeWidth": {"field": "s", "type": "nominal", "scale": {"domain": ["FNN", "Actual", "LSTM", "Gait Cycle"], "range": [1.1, 0.8, 0.9, 0.7]}, "legend": {"title": null}}}},
      {"data": {"name": "emg"}, "transform": [{"filter": "datum.m === 'TA'"}, {"fold": ["Actual", "FNN", "LSTM"], "as": ["s", "v"]}], "mark": "line", "encoding": {
        "x": {"field": "t", "type": "quantitative", "scale": {"domain": [-0.24, 5.84], "nice": false}, "axis": {"values": [0, 1, 2, 3, 4, 5], "format": "d", "title": "Time (s)"}},
        "y": {"field": "v", "type": "quantitative", "scale": {"domain": [-0.03, 0.99], "nice": false, "zero": false}, "axis": {"values": [0, 0.2, 0.4, 0.6, 0.8], "format": ".1f", "title": "Normalized EMG"}},
        "color": {"field": "s", "type": "nominal", "scale": {"domain": ["FNN", "Actual", "LSTM", "Gait Cycle"], "range": ["#2a9a58", "#e5555a", "#2e2e6e", "#c4c4c4"]}, "legend": {"title": null}},
        "strokeDash": {"field": "s", "type": "nominal", "scale": {"domain": ["FNN", "Actual", "LSTM", "Gait Cycle"], "range": [[1.2, 1.4], [1, 0], [4, 1.5, 1, 1.5], [1, 1.8]]}, "legend": {"title": null}},
        "strokeWidth": {"field": "s", "type": "nominal", "scale": {"domain": ["FNN", "Actual", "LSTM", "Gait Cycle"], "range": [1.1, 0.8, 0.9, 0.7]}, "legend": {"title": null}}}}
    ]},
    {"title": "Soleus", "width": 240, "height": 76, "layer": [
      {"data": {"name": "gait"}, "mark": "rule", "encoding": {
        "x": {"field": "t", "type": "quantitative", "scale": {"domain": [-0.24, 5.84], "nice": false}, "axis": {"values": [0, 1, 2, 3, 4, 5], "format": "d", "title": "Time (s)"}},
        "color": {"field": "s", "type": "nominal", "scale": {"domain": ["FNN", "Actual", "LSTM", "Gait Cycle"], "range": ["#2a9a58", "#e5555a", "#2e2e6e", "#c4c4c4"]}, "legend": {"title": null}},
        "strokeDash": {"field": "s", "type": "nominal", "scale": {"domain": ["FNN", "Actual", "LSTM", "Gait Cycle"], "range": [[1.2, 1.4], [1, 0], [4, 1.5, 1, 1.5], [1, 1.8]]}, "legend": {"title": null}},
        "strokeWidth": {"field": "s", "type": "nominal", "scale": {"domain": ["FNN", "Actual", "LSTM", "Gait Cycle"], "range": [1.1, 0.8, 0.9, 0.7]}, "legend": {"title": null}}}},
      {"data": {"name": "emg"}, "transform": [{"filter": "datum.m === 'SO'"}, {"fold": ["Actual", "FNN", "LSTM"], "as": ["s", "v"]}], "mark": "line", "encoding": {
        "x": {"field": "t", "type": "quantitative", "scale": {"domain": [-0.24, 5.84], "nice": false}, "axis": {"values": [0, 1, 2, 3, 4, 5], "format": "d", "title": "Time (s)"}},
        "y": {"field": "v", "type": "quantitative", "scale": {"domain": [-0.04, 1.0], "nice": false, "zero": false}, "axis": {"values": [0, 0.2, 0.4, 0.6, 0.8, 1.0], "format": ".1f", "title": "Normalized EMG"}},
        "color": {"field": "s", "type": "nominal", "scale": {"domain": ["FNN", "Actual", "LSTM", "Gait Cycle"], "range": ["#2a9a58", "#e5555a", "#2e2e6e", "#c4c4c4"]}, "legend": {"title": null}},
        "strokeDash": {"field": "s", "type": "nominal", "scale": {"domain": ["FNN", "Actual", "LSTM", "Gait Cycle"], "range": [[1.2, 1.4], [1, 0], [4, 1.5, 1, 1.5], [1, 1.8]]}, "legend": {"title": null}},
        "strokeWidth": {"field": "s", "type": "nominal", "scale": {"domain": ["FNN", "Actual", "LSTM", "Gait Cycle"], "range": [1.1, 0.8, 0.9, 0.7]}, "legend": {"title": null}}}}
    ]},
    {"title": "Vastus Medialis", "width": 240, "height": 76, "layer": [
      {"data": {"name": "gait"}, "mark": "rule", "encoding": {
        "x": {"field": "t", "type": "quantitative", "scale": {"domain": [-0.24, 5.84], "nice": false}, "axis": {"values": [0, 1, 2, 3, 4, 5], "format": "d", "title": "Time (s)"}},
        "color": {"field": "s", "type": "nominal", "scale": {"domain": ["FNN", "Actual", "LSTM", "Gait Cycle"], "range": ["#2a9a58", "#e5555a", "#2e2e6e", "#c4c4c4"]}, "legend": {"title": null}},
        "strokeDash": {"field": "s", "type": "nominal", "scale": {"domain": ["FNN", "Actual", "LSTM", "Gait Cycle"], "range": [[1.2, 1.4], [1, 0], [4, 1.5, 1, 1.5], [1, 1.8]]}, "legend": {"title": null}},
        "strokeWidth": {"field": "s", "type": "nominal", "scale": {"domain": ["FNN", "Actual", "LSTM", "Gait Cycle"], "range": [1.1, 0.8, 0.9, 0.7]}, "legend": {"title": null}}}},
      {"data": {"name": "emg"}, "transform": [{"filter": "datum.m === 'VM'"}, {"fold": ["Actual", "FNN", "LSTM"], "as": ["s", "v"]}], "mark": "line", "encoding": {
        "x": {"field": "t", "type": "quantitative", "scale": {"domain": [-0.24, 5.84], "nice": false}, "axis": {"values": [0, 1, 2, 3, 4, 5], "format": "d", "title": "Time (s)"}},
        "y": {"field": "v", "type": "quantitative", "scale": {"domain": [-0.04, 1.0], "nice": false, "zero": false}, "axis": {"values": [0, 0.2, 0.4, 0.6, 0.8, 1.0], "format": ".1f", "title": "Normalized EMG"}},
        "color": {"field": "s", "type": "nominal", "scale": {"domain": ["FNN", "Actual", "LSTM", "Gait Cycle"], "range": ["#2a9a58", "#e5555a", "#2e2e6e", "#c4c4c4"]}, "legend": {"title": null}},
        "strokeDash": {"field": "s", "type": "nominal", "scale": {"domain": ["FNN", "Actual", "LSTM", "Gait Cycle"], "range": [[1.2, 1.4], [1, 0], [4, 1.5, 1, 1.5], [1, 1.8]]}, "legend": {"title": null}},
        "strokeWidth": {"field": "s", "type": "nominal", "scale": {"domain": ["FNN", "Actual", "LSTM", "Gait Cycle"], "range": [1.1, 0.8, 0.9, 0.7]}, "legend": {"title": null}}}}
    ]},
    {"title": "Vastus Lateralis", "width": 240, "height": 76, "layer": [
      {"data": {"name": "gait"}, "mark": "rule", "encoding": {
        "x": {"field": "t", "type": "quantitative", "scale": {"domain": [-0.24, 5.84], "nice": false}, "axis": {"values": [0, 1, 2, 3, 4, 5], "format": "d", "title": "Time (s)"}},
        "color": {"field": "s", "type": "nominal", "scale": {"domain": ["FNN", "Actual", "LSTM", "Gait Cycle"], "range": ["#2a9a58", "#e5555a", "#2e2e6e", "#c4c4c4"]}, "legend": {"title": null}},
        "strokeDash": {"field": "s", "type": "nominal", "scale": {"domain": ["FNN", "Actual", "LSTM", "Gait Cycle"], "range": [[1.2, 1.4], [1, 0], [4, 1.5, 1, 1.5], [1, 1.8]]}, "legend": {"title": null}},
        "strokeWidth": {"field": "s", "type": "nominal", "scale": {"domain": ["FNN", "Actual", "LSTM", "Gait Cycle"], "range": [1.1, 0.8, 0.9, 0.7]}, "legend": {"title": null}}}},
      {"data": {"name": "emg"}, "transform": [{"filter": "datum.m === 'VL'"}, {"fold": ["Actual", "FNN", "LSTM"], "as": ["s", "v"]}], "mark": "line", "encoding": {
        "x": {"field": "t", "type": "quantitative", "scale": {"domain": [-0.24, 5.84], "nice": false}, "axis": {"values": [0, 1, 2, 3, 4, 5], "format": "d", "title": "Time (s)"}},
        "y": {"field": "v", "type": "quantitative", "scale": {"domain": [-0.03, 0.97], "nice": false, "zero": false}, "axis": {"values": [0, 0.2, 0.4, 0.6, 0.8], "format": ".1f", "title": "Normalized EMG"}},
        "color": {"field": "s", "type": "nominal", "scale": {"domain": ["FNN", "Actual", "LSTM", "Gait Cycle"], "range": ["#2a9a58", "#e5555a", "#2e2e6e", "#c4c4c4"]}, "legend": {"title": null}},
        "strokeDash": {"field": "s", "type": "nominal", "scale": {"domain": ["FNN", "Actual", "LSTM", "Gait Cycle"], "range": [[1.2, 1.4], [1, 0], [4, 1.5, 1, 1.5], [1, 1.8]]}, "legend": {"title": null}},
        "strokeWidth": {"field": "s", "type": "nominal", "scale": {"domain": ["FNN", "Actual", "LSTM", "Gait Cycle"], "range": [1.1, 0.8, 0.9, 0.7]}, "legend": {"title": null}}}}
    ]},
    {"title": "Rectus Femoris", "width": 240, "height": 76, "layer": [
      {"data": {"name": "gait"}, "mark": "rule", "encoding": {
        "x": {"field": "t", "type": "quantitative", "scale": {"domain": [-0.24, 5.84], "nice": false}, "axis": {"values": [0, 1, 2, 3, 4, 5], "format": "d", "title": "Time (s)"}},
        "color": {"field": "s", "type": "nominal", "scale": {"domain": ["FNN", "Actual", "LSTM", "Gait Cycle"], "range": ["#2a9a58", "#e5555a", "#2e2e6e", "#c4c4c4"]}, "legend": {"title": null}},
        "strokeDash": {"field": "s", "type": "nominal", "scale": {"domain": ["FNN", "Actual", "LSTM", "Gait Cycle"], "range": [[1.2, 1.4], [1, 0], [4, 1.5, 1, 1.5], [1, 1.8]]}, "legend": {"title": null}},
        "strokeWidth": {"field": "s", "type": "nominal", "scale": {"domain": ["FNN", "Actual", "LSTM", "Gait Cycle"], "range": [1.1, 0.8, 0.9, 0.7]}, "legend": {"title": null}}}},
      {"data": {"name": "emg"}, "transform": [{"filter": "datum.m === 'RF'"}, {"fold": ["Actual", "FNN", "LSTM"], "as": ["s", "v"]}], "mark": "line", "encoding": {
        "x": {"field": "t", "type": "quantitative", "scale": {"domain": [-0.24, 5.84], "nice": false}, "axis": {"values": [0, 1, 2, 3, 4, 5], "format": "d", "title": "Time (s)"}},
        "y": {"field": "v", "type": "quantitative", "scale": {"domain": [-0.04, 1.0], "nice": false, "zero": false}, "axis": {"values": [0, 0.2, 0.4, 0.6, 0.8, 1.0], "format": ".1f", "title": "Normalized EMG"}},
        "color": {"field": "s", "type": "nominal", "scale": {"domain": ["FNN", "Actual", "LSTM", "Gait Cycle"], "range": ["#2a9a58", "#e5555a", "#2e2e6e", "#c4c4c4"]}, "legend": {"title": null}},
        "strokeDash": {"field": "s", "type": "nominal", "scale": {"domain": ["FNN", "Actual", "LSTM", "Gait Cycle"], "range": [[1.2, 1.4], [1, 0], [4, 1.5, 1, 1.5], [1, 1.8]]}, "legend": {"title": null}},
        "strokeWidth": {"field": "s", "type": "nominal", "scale": {"domain": ["FNN", "Actual", "LSTM", "Gait Cycle"], "range": [1.1, 0.8, 0.9, 0.7]}, "legend": {"title": null}}}}
    ]},
    {"title": "Biceps Femoris", "width": 240, "height": 76, "layer": [
      {"data": {"name": "gait"}, "mark": "rule", "encoding": {
        "x": {"field": "t", "type": "quantitative", "scale": {"domain": [-0.24, 5.84], "nice": false}, "axis": {"values": [0, 1, 2, 3, 4, 5], "format": "d", "title": "Time (s)"}},
        "color": {"field": "s", "type": "nominal", "scale": {"domain": ["FNN", "Actual", "LSTM", "Gait Cycle"], "range": ["#2a9a58", "#e5555a", "#2e2e6e", "#c4c4c4"]}, "legend": {"title": null}},
        "strokeDash": {"field": "s", "type": "nominal", "scale": {"domain": ["FNN", "Actual", "LSTM", "Gait Cycle"], "range": [[1.2, 1.4], [1, 0], [4, 1.5, 1, 1.5], [1, 1.8]]}, "legend": {"title": null}},
        "strokeWidth": {"field": "s", "type": "nominal", "scale": {"domain": ["FNN", "Actual", "LSTM", "Gait Cycle"], "range": [1.1, 0.8, 0.9, 0.7]}, "legend": {"title": null}}}},
      {"data": {"name": "emg"}, "transform": [{"filter": "datum.m === 'BF'"}, {"fold": ["Actual", "FNN", "LSTM"], "as": ["s", "v"]}], "mark": "line", "encoding": {
        "x": {"field": "t", "type": "quantitative", "scale": {"domain": [-0.24, 5.84], "nice": false}, "axis": {"values": [0, 1, 2, 3, 4, 5], "format": "d", "title": "Time (s)"}},
        "y": {"field": "v", "type": "quantitative", "scale": {"domain": [-0.04, 1.0], "nice": false, "zero": false}, "axis": {"values": [0, 0.2, 0.4, 0.6, 0.8, 1.0], "format": ".1f", "title": "Normalized EMG"}},
        "color": {"field": "s", "type": "nominal", "scale": {"domain": ["FNN", "Actual", "LSTM", "Gait Cycle"], "range": ["#2a9a58", "#e5555a", "#2e2e6e", "#c4c4c4"]}, "legend": {"title": null}},
        "strokeDash": {"field": "s", "type": "nominal", "scale": {"domain": ["FNN", "Actual", "LSTM", "Gait Cycle"], "range": [[1.2, 1.4], [1, 0], [4, 1.5, 1, 1.5], [1, 1.8]]}, "legend": {"title": null}},
        "strokeWidth": {"field": "s", "type": "nominal", "scale": {"domain": ["FNN", "Actual", "LSTM", "Gait Cycle"], "range": [1.1, 0.8, 0.9, 0.7]}, "legend": {"title": null}}}}
    ]},
    {"title": "Semitendinosus", "width": 240, "height": 76, "layer": [
      {"data": {"name": "gait"}, "mark": "rule", "encoding": {
        "x": {"field": "t", "type": "quantitative", "scale": {"domain": [-0.24, 5.84], "nice": false}, "axis": {"values": [0, 1, 2, 3, 4, 5], "format": "d", "title": "Time (s)"}},
        "color": {"field": "s", "type": "nominal", "scale": {"domain": ["FNN", "Actual", "LSTM", "Gait Cycle"], "range": ["#2a9a58", "#e5555a", "#2e2e6e", "#c4c4c4"]}, "legend": {"title": null}},
        "strokeDash": {"field": "s", "type": "nominal", "scale": {"domain": ["FNN", "Actual", "LSTM", "Gait Cycle"], "range": [[1.2, 1.4], [1, 0], [4, 1.5, 1, 1.5], [1, 1.8]]}, "legend": {"title": null}},
        "strokeWidth": {"field": "s", "type": "nominal", "scale": {"domain": ["FNN", "Actual", "LSTM", "Gait Cycle"], "range": [1.1, 0.8, 0.9, 0.7]}, "legend": {"title": null}}}},
      {"data": {"name": "emg"}, "transform": [{"filter": "datum.m === 'ST'"}, {"fold": ["Actual", "FNN", "LSTM"], "as": ["s", "v"]}], "mark": "line", "encoding": {
        "x": {"field": "t", "type": "quantitative", "scale": {"domain": [-0.24, 5.84], "nice": false}, "axis": {"values": [0, 1, 2, 3, 4, 5], "format": "d", "title": "Time (s)"}},
        "y": {"field": "v", "type": "quantitative", "scale": {"domain": [-0.03, 0.99], "nice": false, "zero": false}, "axis": {"values": [0, 0.2, 0.4, 0.6, 0.8], "format": ".1f", "title": "Normalized EMG"}},
        "color": {"field": "s", "type": "nominal", "scale": {"domain": ["FNN", "Actual", "LSTM", "Gait Cycle"], "range": ["#2a9a58", "#e5555a", "#2e2e6e", "#c4c4c4"]}, "legend": {"title": null}},
        "strokeDash": {"field": "s", "type": "nominal", "scale": {"domain": ["FNN", "Actual", "LSTM", "Gait Cycle"], "range": [[1.2, 1.4], [1, 0], [4, 1.5, 1, 1.5], [1, 1.8]]}, "legend": {"title": null}},
        "strokeWidth": {"field": "s", "type": "nominal", "scale": {"domain": ["FNN", "Actual", "LSTM", "Gait Cycle"], "range": [1.1, 0.8, 0.9, 0.7]}, "legend": {"title": null}}}}
    ]},
    {"title": "Gluteus Medius", "width": 240, "height": 76, "layer": [
      {"data": {"name": "gait"}, "mark": "rule", "encoding": {
        "x": {"field": "t", "type": "quantitative", "scale": {"domain": [-0.24, 5.84], "nice": false}, "axis": {"values": [0, 1, 2, 3, 4, 5], "format": "d", "title": "Time (s)"}},
        "color": {"field": "s", "type": "nominal", "scale": {"domain": ["FNN", "Actual", "LSTM", "Gait Cycle"], "range": ["#2a9a58", "#e5555a", "#2e2e6e", "#c4c4c4"]}, "legend": {"title": null}},
        "strokeDash": {"field": "s", "type": "nominal", "scale": {"domain": ["FNN", "Actual", "LSTM", "Gait Cycle"], "range": [[1.2, 1.4], [1, 0], [4, 1.5, 1, 1.5], [1, 1.8]]}, "legend": {"title": null}},
        "strokeWidth": {"field": "s", "type": "nominal", "scale": {"domain": ["FNN", "Actual", "LSTM", "Gait Cycle"], "range": [1.1, 0.8, 0.9, 0.7]}, "legend": {"title": null}}}},
      {"data": {"name": "emg"}, "transform": [{"filter": "datum.m === 'GM'"}, {"fold": ["Actual", "FNN", "LSTM"], "as": ["s", "v"]}], "mark": "line", "encoding": {
        "x": {"field": "t", "type": "quantitative", "scale": {"domain": [-0.24, 5.84], "nice": false}, "axis": {"values": [0, 1, 2, 3, 4, 5], "format": "d", "title": "Time (s)"}},
        "y": {"field": "v", "type": "quantitative", "scale": {"domain": [-0.04, 1.0], "nice": false, "zero": false}, "axis": {"values": [0, 0.2, 0.4, 0.6, 0.8, 1.0], "format": ".1f", "title": "Normalized EMG"}},
        "color": {"field": "s", "type": "nominal", "scale": {"domain": ["FNN", "Actual", "LSTM", "Gait Cycle"], "range": ["#2a9a58", "#e5555a", "#2e2e6e", "#c4c4c4"]}, "legend": {"title": null}},
        "strokeDash": {"field": "s", "type": "nominal", "scale": {"domain": ["FNN", "Actual", "LSTM", "Gait Cycle"], "range": [[1.2, 1.4], [1, 0], [4, 1.5, 1, 1.5], [1, 1.8]]}, "legend": {"title": null}},
        "strokeWidth": {"field": "s", "type": "nominal", "scale": {"domain": ["FNN", "Actual", "LSTM", "Gait Cycle"], "range": [1.1, 0.8, 0.9, 0.7]}, "legend": {"title": null}}}}
    ]}
  ]
}
